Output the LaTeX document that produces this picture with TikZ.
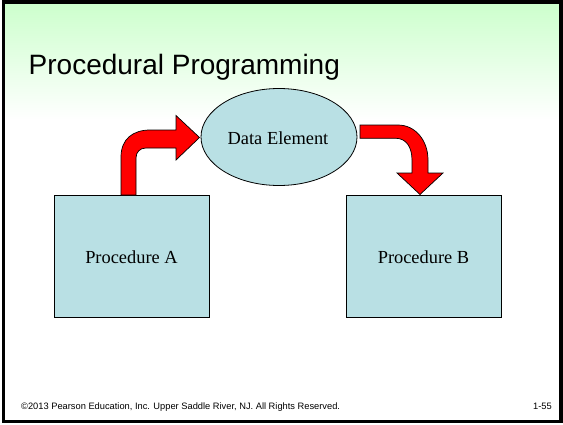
\documentclass[tikz,border=0pt]{standalone}
\usepackage{fontspec}
\setmainfont{Liberation Serif}
\newfontfamily\arialfont{Liberation Sans}
\usetikzlibrary{shapes.geometric}
\definecolor{boxfill}{RGB}{185,224,228}
\definecolor{topgreen}{RGB}{204,255,204}
\definecolor{arrowred}{RGB}{255,0,0}
\tikzset{
  procbox/.style={draw=black, line width=0.8pt, fill=boxfill, minimum width=155pt, minimum height=122pt, inner sep=0pt},
  dataell/.style={ellipse, draw=black, line width=0.8pt, fill=boxfill, minimum width=156pt, minimum height=97pt, inner sep=0pt},
  shapetext/.style={font=\fontsize{18.4}{20}\selectfont, inner sep=0pt, anchor=base},
  bentarrow/.style={fill=arrowred, draw=black, line width=0.7pt, line join=miter},
  footer/.style={font=\arialfont\fontsize{9.3}{11}\selectfont, inner sep=0pt}
}
\begin{document}
\begin{tikzpicture}[x=1pt,y=-1pt]
\useasboundingbox (0,0) rectangle (563,424);
\fill[white] (0,0) rectangle (563,424);
\shade[top color=topgreen, bottom color=white] (3,2) rectangle (561,120);
\draw[line width=3.5pt] (3.7,1.8) rectangle (561,421.7);

\node[anchor=base west, inner sep=0pt, font=\arialfont\fontsize{28}{32}\selectfont] (title) at (28.5,74.3) {Procedural Programming};

\node[dataell] (data) at (279,137) {};
\node[shapetext] (datatxt) at (278,144) {Data Element};

\node[procbox] (pa) at (131.5,256) {};
\node[procbox] (pb) at (423.5,256) {};
\node[shapetext] (patxt) at (131.5,263) {Procedure A};
\node[shapetext] (pbtxt) at (423.5,263) {Procedure B};

% left bent arrow: from Procedure A up and into Data Element
\draw[bentarrow] (121,195) -- (121,157)
  .. controls (121,139) and (133,130) .. (150,130)
  -- (176,130) -- (176,115.5) -- (199.5,137.5) -- (176,160) -- (176,148)
  -- (146,148) .. controls (140,148) and (136,152) .. (136,158)
  -- (136,195) -- cycle;

% right bent arrow: from Data Element to Procedure B
\draw[bentarrow] (360,125) -- (398,125)
  .. controls (415,125) and (428,140) .. (428,160)
  -- (428,173) -- (443,173) -- (420,194.5) -- (397,173) -- (412,173)
  -- (412,160) .. controls (412,147) and (406,138.3) .. (396,138.3)
  -- (360,138.3) -- cycle;

\node[footer, anchor=base west] (copy) at (21,409) {©2013 Pearson Education, Inc. Upper Saddle River, NJ. All Rights Reserved.};
\node[footer, anchor=base east] (page) at (552,409) {1-55};
\end{tikzpicture}
\end{document}
